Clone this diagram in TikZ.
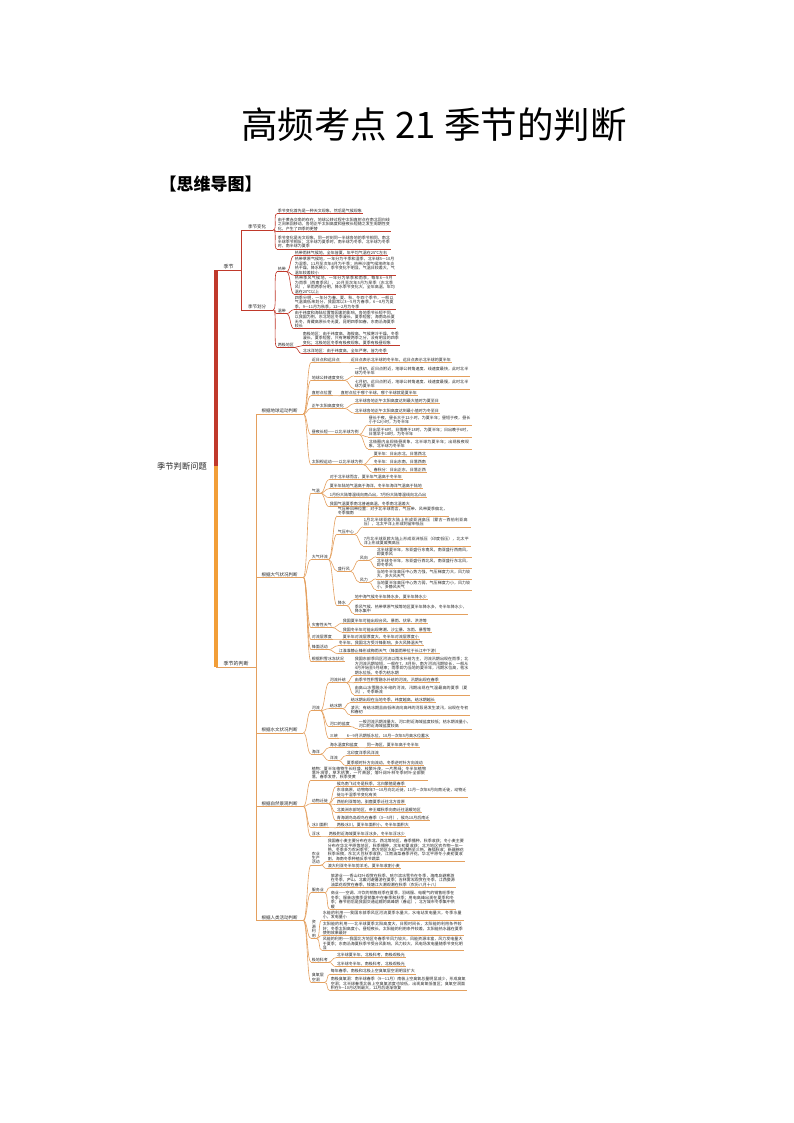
\documentclass[tikz,border=0pt]{standalone}
\usepackage{fontspec}
\setmainfont{Noto Sans CJK SC}
\XeTeXlinebreaklocale "zh"
\XeTeXlinebreakskip=0pt plus 1pt
\usepackage{tikz}
\newcommand{\leaffont}{\fontsize{4}{4.4}\selectfont}
\newcommand{\subfont}{\fontsize{4.5}{5}\selectfont}
\newcommand{\headfont}{\fontsize{5}{5.5}\selectfont}

\begin{document}
\begin{tikzpicture}[x=1pt,y=-1pt,
    every node/.style={text=black!85},
    rul/.style={append after command={(\tikzlastnode.south west) edge[draw=seasonred,line width=.6pt] (\tikzlastnode.south east)}},
    oul/.style={append after command={(\tikzlastnode.south west) edge[draw=judgeline,line width=.6pt] (\tikzlastnode.south east)}},
    rhead/.style={rul, anchor=west, inner sep=.6pt, font=\headfont},
    ohead/.style={oul, anchor=west, inner sep=.6pt, font=\headfont},
    rsub/.style={rul, anchor=west, inner sep=.6pt, font=\subfont, minimum width=32pt},
    osub/.style={oul, anchor=west, inner sep=.6pt, font=\subfont, minimum width=47pt},
    rleaf/.style={rul, anchor=west, inner sep=.6pt, align=left, font=\leaffont},
    oleaf/.style={oul, anchor=west, inner sep=.6pt, align=left, font=\leaffont},
    rline/.style={draw=seasonred, line width=.6pt},
    oline/.style={draw=judgeline, line width=.6pt},
    rlink/.style={draw=seasonred, line width=.6pt, out=0, in=180, distance=4pt},
    olink/.style={draw=judgeline, line width=.6pt, out=0, in=180, distance=4pt}
  ]
        % Define colors
        \definecolor{seasonred}{RGB}{192, 57, 43}    % branch red
        \definecolor{judgeline}{RGB}{228, 160, 95}   % branch tan
        \definecolor{barorange}{RGB}{242, 158, 56}   % spine orange

        \useasboundingbox (0,0) rectangle (794,1123);

        % Title
        \node[text=black, font=\fontsize{36.5}{40}\selectfont] (title) at (434,125) {高频考点 21 季节的判断};
        \node[text=black, anchor=west, font=\fontsize{17}{19}\selectfont\bfseries] (mindmap) at (156,184) {【思维导图】};

        % Root and spine
        \node[font=\fontsize{8.3}{9}\selectfont] (root) at (182,466) {季节判断问题};
        \coordinate (spine) at (216,466);
        \node[rhead, minimum width=25pt] (jijie) at (216,267) {季节};
        \node[ohead, minimum width=40pt] (panduan) at (216,664) {季节的判断};
        \draw[seasonred, line width=3.5pt] (jijie.south west) -- (spine);
        \draw[barorange, line width=3.5pt] (spine) -- (panduan.south west);

        % Draw branch: season
        \node[rsub] (bianhua) at (241,227) {季节变化};
        \node[rsub] (huafen) at (241,307) {季节划分};
        \draw[rline] (jijie.south east) |- (bianhua.south west);
        \draw[rline] (jijie.south east) |- (huafen.south west);

        \node[rleaf] (bh1) at (277,211) {季节变化首先是一种天文现象，然后是气候现象};
        \node[rleaf, text width=112] (bh2) at (277,224.5) {由于黄赤交角的存在，地球公转过程中太阳直射点在南北回归线之间来回移动，各地正午太阳高度和昼夜长短随之发生周期性变化，产生了四季的更替};
        \node[rleaf, text width=112] (bh3) at (277,242) {季节变化是天文现象，同一时刻同一半球各地的季节相同，南北半球季节相反；北半球为夏季时，南半球为冬季，北半球为冬季时，南半球为夏季};
        \draw[rlink] (bianhua.south east) to (bh1.south west);
        \draw[rlink] (bianhua.south east) to (bh2.south west);
        \draw[rlink] (bianhua.south east) to (bh3.south west);

        \node[rleaf] (redai) at (277,269) {热带};
        \node[rleaf] (wendai) at (277,311) {温带};
        \node[rleaf] (liangji) at (277,344.75) {两极地区};
        \draw[rlink] (huafen.south east) to (redai.south west);
        \draw[rlink] (huafen.south east) to (wendai.south west);
        \draw[rlink] (huafen.south east) to (liangji.south west);

        \node[rleaf] (rd1) at (294,253) {热带雨林气候地，全年皆夏，年平均气温在25℃左右};
        \node[rleaf, text width=100] (rd2) at (294,266) {热带草原气候地，一年分为干季和湿季，北半球5—10月为湿季，11月至次年4月为干季；热带沙漠气候地终年炎热干燥，降水稀少，季节变化不明显，气温日较差大，气温年较差较小};
        \node[rleaf, text width=100] (rd3) at (294,285) {热带季风气候地，一年分为旱季和雨季，每年6—9月为雨季（西南季风），10月至次年5月为旱季（东北季风），旱雨两季分明，降水季节变化大，全年高温，年均温在20℃以上};
        \draw[rlink] (redai.south east) to (rd1.south west);
        \draw[rlink] (redai.south east) to (rd2.south west);
        \draw[rlink] (redai.south east) to (rd3.south west);

        \node[rleaf, text width=100] (wd1) at (294,302.5) {四季分明，一年分为春、夏、秋、冬四个季节，一般以气温高低来划分，我国常以3—5月为春季，6—8月为夏季，9—11月为秋季，12—2月为冬季};
        \node[rleaf, text width=100] (wd2) at (294,319.5) {由于纬度和海陆位置等因素的影响，各地季节长短不同，以我国为例，东北地区冬季漫长，夏季短暂；海南岛长夏无冬，青藏高原长冬无夏，昆明四季如春，东南沿海夏季较长};
        \draw[rlink] (wendai.south east) to (wd1.south west);
        \draw[rlink] (wendai.south east) to (wd2.south west);

        \node[rleaf, text width=96] (lj1) at (302,338.5) {南极地区：由于纬度高，海拔高，气候寒冷干燥，冬季漫长，夏季短暂，只有寒暖两季之分，没有明显的四季变化；北极地区冬季有极夜现象，夏季有极昼现象};
        \node[rleaf] (lj2) at (302,351) {北冰洋地区：由于纬度高，全年严寒，皆为冬季};
        \draw[rlink] (liangji.south east) to (lj1.south west);
        \draw[rlink] (liangji.south east) to (lj2.south west);

        % Draw branch: judging
        \node[osub] (diqiu) at (256,411) {根据地球运动判断};
        \node[osub] (daqi) at (256,574.5) {根据大气状况判断};
        \node[osub] (shuiwen) at (256,730) {根据水文状况判断};
        \node[osub] (ziran) at (256,803.5) {根据自然景观判断};
        \node[osub] (renlei) at (256,917.5) {根据人类活动判断};
        \draw[oline] (panduan.south east) |- (diqiu.south west);
        \draw[oline] (panduan.south east) |- (daqi.south west);
        \draw[oline] (panduan.south east) |- (shuiwen.south west);
        \draw[oline] (panduan.south east) |- (ziran.south west);
        \draw[oline] (panduan.south east) |- (renlei.south west);

        % Earth motion
        \node[oleaf] (jr) at (311,360) {近日点和远日点};
        \node[oleaf] (gz) at (311,377.5) {地球公转速度变化};
        \node[oleaf] (zs) at (311,393) {直射点位置};
        \node[oleaf] (zw) at (311,405.75) {正午太阳高度变化};
        \node[oleaf] (zy) at (311,432) {昼夜长短——以北半球为例};
        \node[oleaf] (sy) at (311,462) {太阳视运动——以北半球为例};
        \draw[olink] (diqiu.south east) to (jr.south west);
        \draw[olink] (diqiu.south east) to (gz.south west);
        \draw[olink] (diqiu.south east) to (zs.south west);
        \draw[olink] (diqiu.south east) to (zw.south west);
        \draw[olink] (diqiu.south east) to (zy.south west);
        \draw[olink] (diqiu.south east) to (sy.south west);

        \node[oleaf] (jr1) at (350,360) {近日点表示北半球的冬半年，远日点表示北半球的夏半年};
        \draw[olink] (jr.south east) to (jr1.south west);
        \node[oleaf, text width=114] (gz1) at (354,371) {一月初，近日点附近，地球公转角速度、线速度最快，此时北半球为冬半年};
        \node[oleaf, text width=114] (gz2) at (354,384) {七月初，远日点附近，地球公转角速度、线速度最慢，此时北半球为夏半年};
        \draw[olink] (gz.south east) to (gz1.south west);
        \draw[olink] (gz.south east) to (gz2.south west);
        \node[oleaf] (zs1) at (340,393) {直射点位于哪个半球，哪个半球就是夏半年};
        \draw[olink] (zs.south east) to (zs1.south west);
        \node[oleaf] (zw1) at (354,401) {北半球各地正午太阳高度达到最大值时为夏至日};
        \node[oleaf] (zw2) at (354,410.5) {北半球各地正午太阳高度达到最小值时为冬至日};
        \draw[olink] (zw.south east) to (zw1.south west);
        \draw[olink] (zw.south east) to (zw2.south west);
        \node[oleaf, text width=102] (zy1) at (368,420) {昼长于夜，昼长大于12小时，为夏半年；昼短于夜，昼长小于12小时，为冬半年};
        \node[oleaf, text width=102] (zy2) at (368,432) {日出早于6时，日落晚于18时，为夏半年；日出晚于6时，日落早于18时，为冬半年};
        \node[oleaf, text width=102] (zy3) at (368,444) {北极圈内出现极昼现象，北半球为夏半年；出现极夜现象，北半球为冬半年};
        \draw[olink] (zy.south east) to (zy1.south west);
        \draw[olink] (zy.south east) to (zy2.south west);
        \draw[olink] (zy.south east) to (zy3.south west);
        \node[oleaf] (sy1) at (373,454) {夏半年：日出东北，日落西北};
        \node[oleaf] (sy2) at (373,462) {冬半年：日出东南，日落西南};
        \node[oleaf] (sy3) at (373,470) {春秋分：日出正东，日落正西};
        \draw[olink] (sy.south east) to (sy1.south west);
        \draw[olink] (sy.south east) to (sy2.south west);
        \draw[olink] (sy.south east) to (sy3.south west);

        % Atmosphere
        \node[oleaf] (qw) at (311,490.5) {气温};
        \node[oleaf] (hl) at (311,557) {大气环流};
        \node[oleaf] (zh) at (311,625) {灾害性天气};
        \node[oleaf] (dl) at (311,637) {对流层厚度};
        \node[oleaf] (fm) at (311,647) {锋面活动};
        \node[oleaf] (jx) at (311,659) {根据积雪冰冻状况};
        \draw[olink] (daqi.south east) to (qw.south west);
        \draw[olink] (daqi.south east) to (hl.south west);
        \draw[olink] (daqi.south east) to (zh.south west);
        \draw[olink] (daqi.south east) to (dl.south west);
        \draw[olink] (daqi.south east) to (fm.south west);
        \draw[olink] (daqi.south east) to (jx.south west);

        \node[oleaf] (qw1) at (329,477) {对于北半球而言，夏半年气温高于冬半年};
        \node[oleaf] (qw2) at (329,486) {夏半年陆地气温高于海洋，冬半年海洋气温高于陆地};
        \node[oleaf] (qw3) at (329,495) {1月份大陆等温线向南凸出，7月份大陆等温线向北凸出};
        \node[oleaf] (qw4) at (329,504) {我国气温夏季南北普遍高温，冬季南北温差大};
        \draw[olink] (qw.south east) to (qw1.south west);
        \draw[olink] (qw.south east) to (qw2.south west);
        \draw[olink] (qw.south east) to (qw3.south west);
        \draw[olink] (qw.south east) to (qw4.south west);

        \node[oleaf, text width=110] (hl1) at (337,511) {气压带风带位置：对于北半球而言，气压带、风带夏季偏北，冬季偏南};
        \node[oleaf] (yz) at (337,531.5) {气压中心};
        \node[oleaf] (sx) at (337,568.5) {盛行风};
        \node[oleaf] (js) at (337,603) {降水};
        \draw[olink] (hl.south east) to (hl1.south west);
        \draw[olink] (hl.south east) to (yz.south west);
        \draw[olink] (hl.south east) to (sx.south west);
        \draw[olink] (hl.south east) to (js.south west);
        \node[oleaf, text width=106] (yz1) at (363,522) {1月北半球亚欧大陆上形成亚洲高压（蒙古—西伯利亚高压），北太平洋上形成阿留申低压};
        \node[oleaf, text width=106] (yz2) at (363,541) {7月北半球亚欧大陆上形成亚洲低压（印度低压），北太平洋上形成夏威夷高压};
        \draw[olink] (yz.south east) to (yz1.south west);
        \draw[olink] (yz.south east) to (yz2.south west);
        \node[oleaf] (fx) at (359,557.5) {风向};
        \node[oleaf] (fl) at (359,579.5) {风力};
        \draw[olink] (sx.south east) to (fx.south west);
        \draw[olink] (sx.south east) to (fl.south west);
        \node[oleaf, text width=94] (fx1) at (376,552) {北半球夏半年，东亚盛行东南风，南亚盛行西南风，即夏季风};
        \node[oleaf, text width=94] (fx2) at (376,563) {北半球冬半年，东亚盛行西北风，南亚盛行东北风，即冬季风};
        \draw[olink] (fx.south east) to (fx1.south west);
        \draw[olink] (fx.south east) to (fx2.south west);
        \node[oleaf, text width=94] (fl1) at (376,574) {当地冬半年高压中心势力强，气压梯度力大，风力较大，多大风天气};
        \node[oleaf, text width=94] (fl2) at (376,585) {当地夏半年高压中心势力弱，气压梯度力小，风力较小，多静风天气};
        \draw[olink] (fl.south east) to (fl1.south west);
        \draw[olink] (fl.south east) to (fl2.south west);
        \node[oleaf] (js1) at (354,597) {地中海气候冬半年降水多，夏半年降水少};
        \node[oleaf, text width=112] (js2) at (354,609) {季风气候、热带草原气候等地区夏半年降水多，冬半年降水少，降水集中};
        \draw[olink] (js.south east) to (js1.south west);
        \draw[olink] (js.south east) to (js2.south west);

        \node[oleaf] (zh1) at (342,620.5) {我国夏半年可能出现台风、暴雨、伏旱、洪涝等};
        \node[oleaf] (zh2) at (342,629.5) {我国冬半年可能出现寒潮、沙尘暴、冻雨、暴雪等};
        \draw[olink] (zh.south east) to (zh1.south west);
        \draw[olink] (zh.south east) to (zh2.south west);
        \node[oleaf] (dl1) at (342,637) {夏半年对流层厚度大，冬半年对流层厚度小};
        \draw[olink] (dl.south east) to (dl1.south west);
        \node[oleaf] (fm1) at (338,643) {冬半年，我国北方受冷锋影响，多大风降温天气};
        \node[oleaf] (fm2) at (338,651) {江淮准静止锋形成梅雨天气（锋面雨带位于长江中下游）};
        \draw[olink] (fm.south east) to (fm1.south west);
        \draw[olink] (fm.south east) to (fm2.south west);

        % Hydrology
        \node[oleaf] (hliu) at (311,708) {河流};
        \node[oleaf] (hy) at (311,751.5) {海洋};
        \draw[olink] (shuiwen.south east) to (hliu.south west);
        \draw[olink] (shuiwen.south east) to (hy.south west);

        \node[oleaf] (bj) at (329,680) {河流补给};
        \node[oleaf] (jb) at (329,706) {结冰期};
        \node[oleaf] (hk) at (329,724) {河口的盐度};
        \node[oleaf] (sx3) at (329,736) {三峡};
        \draw[olink] (hliu.south east) to (bj.south west);
        \draw[olink] (hliu.south east) to (jb.south west);
        \draw[olink] (hliu.south east) to (hk.south west);
        \draw[olink] (hliu.south east) to (sx3.south west);
        \node[oleaf, text width=114] (bj1) at (354,666) {我国东部季风区河流以雨水补给为主，河流汛期出现在雨季；北方河流汛期较短，一般在7、8月份，南方河流汛期较长，一般从4月开始至9月结束；雨季即为当地的夏半年，汛期水位高，枯水期水位低，冬季为枯水期};
        \node[oleaf] (bj2) at (354,680) {由季节性积雪融水补给的河流，汛期出现在春季};
        \node[oleaf, text width=114] (bj3) at (354,690) {由高山冰雪融水补给的河流，汛期出现在气温最高的夏季（夏汛），冬季断流};
        \draw[olink] (bj.south east) to (bj1.south west);
        \draw[olink] (bj.south east) to (bj2.south west);
        \draw[olink] (bj.south east) to (bj3.south west);
        \node[oleaf] (jb1) at (350,700) {结冰期出现在当地冬季，纬度越高，结冰期越长};
        \node[oleaf, text width=118] (jb2) at (350,710) {凌汛：有结冰期且由低纬流向高纬的河段易发生凌汛，出现在冬初和春初};
        \draw[olink] (jb.south east) to (jb1.south west);
        \draw[olink] (jb.south east) to (jb2.south west);
        \node[oleaf, text width=112] (hk1) at (358,724) {一般河流汛期流量大，河口附近海域盐度较低；枯水期流量小，河口附近海域盐度较高};
        \draw[olink] (hk.south east) to (hk1.south west);
        \node[oleaf] (sx31) at (346,736) {6—9月汛期低水位，10月—次年5月高水位蓄水};
        \draw[olink] (sx3.south east) to (sx31.south west);

        \node[oleaf] (ws) at (329,745) {海水温度和盐度};
        \node[oleaf] (yl) at (329,758) {洋流};
        \draw[olink] (hy.south east) to (ws.south west);
        \draw[olink] (hy.south east) to (yl.south west);
        \node[oleaf] (ws1) at (366,745) {同一海区，夏半年高于冬半年};
        \draw[olink] (ws.south east) to (ws1.south west);
        \node[oleaf] (yl1) at (346,753) {北印度洋季风洋流};
        \node[oleaf] (yl2) at (346,763) {夏季顺时针方向流动，冬季逆时针方向流动};
        \draw[olink] (yl.south east) to (yl1.south west);
        \draw[olink] (yl.south east) to (yl2.south west);

        % Landscape
        \node[oleaf, text width=115] (zwpl) at (311,773) {植物：夏半年植物生长旺盛，枝繁叶茂，一片葱绿；冬半年植物落叶凋零，草木枯黄，一片萧瑟；落叶阔叶林冬季树叶全部脱落，春季发芽，秋季变黄};
        \node[oleaf] (dw) at (311,801) {动物迁徙};
        \node[oleaf] (bc) at (311,825) {冰川面积};
        \node[oleaf] (fb) at (311,834) {浮冰};
        \draw[olink] (ziran.south east) to (zwpl.south west);
        \draw[olink] (ziran.south east) to (dw.south west);
        \draw[olink] (ziran.south east) to (bc.south west);
        \draw[olink] (ziran.south east) to (fb.south west);
        \node[oleaf] (dw1) at (336,784) {候鸟南飞过冬是秋季，北归繁殖是春季};
        \node[oleaf, text width=130] (dw2) at (336,792.5) {东非高原，动物每年7—10月向北迁徙，11月—次年6月向南迁徙，动物迁徙与干湿季节变化有关};
        \node[oleaf] (dw3) at (336,802) {西伯利亚等地，驯鹿夏季迁往北方苔原};
        \node[oleaf] (dw4) at (336,810) {北美洲东部地区，帝王蝶秋季向南迁往温暖地区};
        \node[oleaf] (dw5) at (336,818) {青海湖鸟岛观鸟在春季（3—5月），候鸟10月后南迁};
        \draw[olink] (dw.south east) to (dw1.south west);
        \draw[olink] (dw.south east) to (dw2.south west);
        \draw[olink] (dw.south east) to (dw3.south west);
        \draw[olink] (dw.south east) to (dw4.south west);
        \draw[olink] (dw.south east) to (dw5.south west);
        \node[oleaf] (bc1) at (336,825) {两极冰川，夏半年面积小，冬半年面积大};
        \draw[olink] (bc.south east) to (bc1.south west);
        \node[oleaf] (fb1) at (328,834) {两极附近海域夏半年浮冰多，冬半年浮冰少};
        \draw[olink] (fb.south east) to (fb1.south west);

        % Human activity
        \node[oleaf] (ny) at (311,858) {农业\\生产\\活动};
        \node[oleaf] (fw) at (311,890) {服务业};
        \node[oleaf] (zl) at (311,929) {资\\源\\利\\用};
        \node[oleaf] (jd) at (311,959.5) {极地科考};
        \node[oleaf] (cy) at (311,977.5) {臭氧层\\空洞};
        \draw[olink] (renlei.south east) to (ny.south west);
        \draw[olink] (renlei.south east) to (fw.south west);
        \draw[olink] (renlei.south east) to (zl.south west);
        \draw[olink] (renlei.south east) to (jd.south west);
        \draw[olink] (renlei.south east) to (cy.south west);

        \node[oleaf, text width=136] (ny1) at (327,850) {我国春小麦主要分布在东北、西北等地区，春季播种，秋季收获；冬小麦主要分布在华北平原等地区，秋季播种，次年初夏收获；北方地区农作物一年一熟，冬季多为农闲季节；南方地区水稻一年两熟至三熟，春插秋收；新疆棉花秋季采摘，东北大豆秋季收获，江南油菜春季开花，华北平原冬小麦初夏收割，海南冬季种植反季节蔬菜};
        \node[oleaf] (ny2) at (327,866) {澳大利亚冬半年剪羊毛，夏半年收割小麦};
        \draw[olink] (ny.south east) to (ny1.south west);
        \draw[olink] (ny.south east) to (ny2.south west);
        \node[oleaf, text width=124] (fw1) at (330,880.5) {旅游业——香山红叶观赏在秋季，哈尔滨冰雪节在冬季，海南岛避寒游在冬季，庐山、北戴河避暑游在夏季；吉林雾凇观赏在冬季，江西婺源油菜花观赏在春季，钱塘江大潮观潮在秋季（农历八月十八）};
        \node[oleaf, text width=124] (fw2) at (330,900) {商业——空调、冷饮的销售旺季在夏季，羽绒服、电暖气的销售旺季在冬季；服装店换季促销集中在春季和秋季；用电高峰出现在夏季和冬季；春节前后是我国交通运输的高峰期（春运），北方城市冬季集中供暖};
        \draw[olink] (fw.south east) to (fw1.south west);
        \draw[olink] (fw.south east) to (fw2.south west);
        \node[oleaf, text width=140] (zl1) at (322,915) {水能的利用——我国东部季风区河流夏季水量大，水电站发电量大，冬季水量小，发电量小};
        \node[oleaf, text width=140] (zl2) at (322,928.5) {太阳能的利用——北半球夏季太阳高度大，日照时间长，太阳能的利用条件较好；冬季太阳高度小，昼短夜长，太阳能的利用条件较差，太阳能热水器在夏季使用效果最好};
        \node[oleaf, text width=140] (zl3) at (322,943.5) {风能的利用——我国北方地区冬春季节风力较大，风能资源丰富，风力发电量大于夏季；东南沿海夏秋季节受台风影响，风力较大，风电场发电量随季节变化明显};
        \draw[olink] (zl.south east) to (zl1.south west);
        \draw[olink] (zl.south east) to (zl2.south west);
        \draw[olink] (zl.south east) to (zl3.south west);
        \node[oleaf] (jd1) at (336,955) {北半球夏半年，北极科考，南极观极光};
        \node[oleaf] (jd2) at (336,964) {北半球冬半年，南极科考，北极观极光};
        \draw[olink] (jd.south east) to (jd1.south west);
        \draw[olink] (jd.south east) to (jd2.south west);
        \node[oleaf] (cy1) at (330,971.5) {每年春季，南极和北极上空臭氧层空洞明显扩大};
        \node[oleaf, text width=135] (cy2) at (330,983.5) {南极臭氧洞：南半球春季（9—11月）南极上空臭氧总量明显减少，形成臭氧空洞；北半球春季北极上空臭氧浓度也较低，出现臭氧低值区；臭氧空洞面积在9—10月达到最大，12月后逐渐恢复};
        \draw[olink] (cy.south east) to (cy1.south west);
        \draw[olink] (cy.south east) to (cy2.south west);
\end{tikzpicture}
\end{document}
